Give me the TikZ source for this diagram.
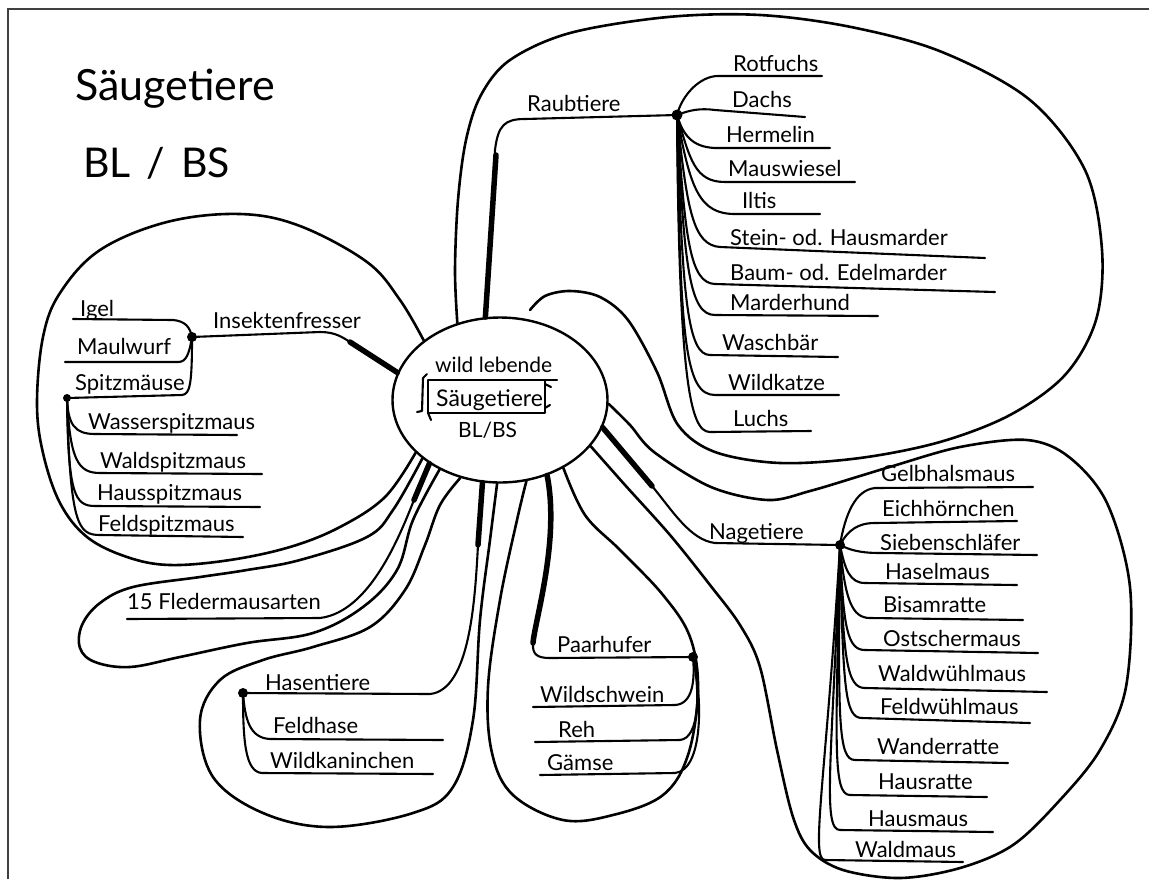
\documentclass[tikz,border=0pt]{standalone}
\usepackage{fontspec}
\setmainfont{Lato}
\usetikzlibrary{shapes.geometric}
\begin{document}
\begin{tikzpicture}[x=1pt,y=-1pt,
  outl/.style={line width=2.6pt,line cap=round,line join=round},
  uline/.style={line width=2.1pt,line cap=round,line join=round},
  thk/.style={line width=5.5pt,line cap=round},
  lab/.style={anchor=base west,inner sep=0pt,font=\fontsize{22}{22}\selectfont},
  hub/.style={circle,fill=black,inner sep=0pt,minimum size=10pt},
  pageframe/.style={line width=1.4pt,black!75}]
\useasboundingbox (0,0) rectangle (1149,879);
\draw[pageframe] (8,879) -- (8,9) -- (1149,9);

% titles
\node[anchor=base west,inner sep=0pt,font=\fontsize{43}{43}\selectfont] (title1) at (75,100) {Säugetiere};
\node[anchor=base west,inner sep=0pt,font=\fontsize{41}{41}\selectfont] (title2) at (83,177) {BL\hspace{16pt}/\hspace{16pt}BS};

% centre
\node[draw,ellipse,line width=2.4pt,minimum width=215pt,minimum height=165pt,inner sep=0pt] (E) at (500,400) {};
\node[lab,font=\fontsize{21}{21}\selectfont] (cw) at (435,372) {wild lebende};
\node[lab,font=\fontsize{23}{23}\selectfont] (cs) at (436,406) {Säugetiere};
\node[lab,font=\fontsize{21}{21}\selectfont] (cb) at (458,437) {BL/BS};
\draw[uline] (428,380) rectangle (545,413);
\draw[uline] (545,380) -- (557,380);
\draw[uline] (427,374) -- (423,378) -- (422,411) -- (417,412);
\draw[uline] (428,413) -- (431,420);
\draw[uline] (545,384) -- (551,387);
\draw[uline] (545,408) -- (550,405);

% ---------------- Raubtiere
\draw[outl] plot[smooth,tension=0.55] coordinates {(E.119) (455,270) (458,200) (466,140) (481,95) (510,60) (570,33) (668,17) (760,15) (851,27) (942,52) (1030,100) (1085,170) (1102,250) (1096,320) (1065,375) (1010,415) (940,442) (860,458) (780,463) (715,452) (678,425) (657,372) (628,320) (600,297) (570,291) (545,296) (530,310)};
\node[hub,minimum size=11pt] (R) at (677,115) {};
\draw[uline] (E.100) -- (495,150) .. controls (498,125) and (505,119) .. (525,119) -- (R.center);
\draw[thk] (E.100) -- (496,155);
\node[lab] (raub) at (527,111) {Raubtiere};
\draw[uline] (R.center) .. controls (682,95) and (700,76) .. (718,76) -- (822,76);
\draw[uline] (R.center) .. controls (690,110) and (700,108) .. (715,110) -- (805,117);
\draw[uline] (R.center) .. controls (683,135) and (692,147) .. (715,148) -- (830,148);
\draw[uline] (R.center) .. controls (690,160) and (695,182) .. (725,182) -- (855,182);
\draw[uline] (R.center) .. controls (690,190) and (700,214) .. (735,214) -- (820,214);
\draw[uline] (R.center) .. controls (687,210) and (693,245) .. (720,247) -- (985,258);
\draw[uline] (R.center) .. controls (685,240) and (690,283) .. (715,284) -- (995,292);
\draw[uline] (R.center) .. controls (684,270) and (690,315) .. (715,315) -- (878,316);
\draw[uline] (R.center) .. controls (682,300) and (688,355) .. (710,355) -- (838,357);
\draw[uline] (R.center) .. controls (680,340) and (685,395) .. (715,395) -- (839,395);
\draw[uline] (R.center) .. controls (679,380) and (690,432) .. (710,432) -- (811,431);
\node[lab] (r1) at (733,71) {Rotfuchs};
\node[lab] (r2) at (732,107) {Dachs};
\node[lab] (r3) at (726,142) {Hermelin};
\node[lab] (r4) at (728,176) {Mauswiesel};
\node[lab] (r5) at (742,208) {Iltis};
\node[lab] (r6) at (730,245) {Stein- od. Hausmarder};
\node[lab] (r7) at (730,280) {Baum- od. Edelmarder};
\node[lab] (r8) at (730,310) {Marderhund};
\node[lab] (r9) at (722,350) {Waschbär};
\node[lab] (r10) at (728,390) {Wildkatze};
\node[lab] (r11) at (733,426) {Luchs};

% ---------------- Insektenfresser
\draw[outl] plot[smooth,tension=0.6] coordinates {(E.142) (400,300) (367,262) (300,226) (240,214) (167,222) (100,250) (60,293) (43,337) (37,403) (43,453) (60,503) (87,537) (127,557) (170,565) (230,560) (290,547) (340,527) (385,497) (E.212)};
\node[hub] (I) at (192,337) {};
\node[hub,minimum size=8pt] (S) at (67,398) {};
\draw[uline] (I.center) -- (320,332) .. controls (335,332) and (342,337) .. (350,342) -- (E.165);
\draw[thk] (350,342) -- (E.165);
\node[lab] (ins) at (213,328) {Insektenfresser};
\draw[uline] (73,319) -- (173,320) .. controls (185,321) and (190,327) .. (I.center);
\draw[uline] (65,362) -- (178,362) .. controls (186,362) and (189,355) .. (I.center);
\draw[uline] (S.center) -- (182,395) .. controls (190,394) and (192,385) .. (I.center);
\node[lab] (i1) at (80,316) {Igel};
\node[lab] (i2) at (77,354) {Maulwurf};
\node[lab] (i3) at (75,390) {Spitzmäuse};
\draw[uline] (S.center) .. controls (68,425) and (75,434) .. (95,434) -- (237,435);
\draw[uline] (S.center) .. controls (70,460) and (78,473) .. (100,473) -- (262,474);
\draw[uline] (S.center) .. controls (68,495) and (75,506) .. (95,506) -- (260,507);
\draw[uline] (S.center) .. controls (70,525) and (78,535) .. (100,535) -- (243,537);
\node[lab] (s1) at (88,429) {Wasserspitzmaus};
\node[lab] (s2) at (100,468) {Waldspitzmaus};
\node[lab] (s3) at (97,500) {Hausspitzmaus};
\node[lab] (s4) at (98,531) {Feldspitzmaus};

% ---------------- Fledermaeuse
\draw[outl] plot[smooth,tension=0.6] coordinates {(E.217) (393,510) (367,537) (300,560) (247,570) (200,577) (133,587) (100,603) (82,625) (80,648) (95,662) (130,667) (180,657) (247,643) (313,633) (363,607) (397,570) (413,520) (E.229)};
\draw[uline] (E.222) -- (414,500) .. controls (400,535) and (370,612) .. (320,618) -- (127,619);
\draw[thk] (E.222) -- (414,500);
\node[lab] (fl) at (127,609) {15 Fledermausarten};

% ---------------- Hasentiere
\draw[outl] plot[smooth,tension=0.6] coordinates {(E.243) (440,505) (425,545) (405,590) (370,627) (313,647) (263,660) (220,680) (200,720) (213,777) (263,813) (330,827) (413,813) (453,787) (473,720) (480,620) (490,540) (E.268)};
\node[hub] (H) at (243,693) {};
\draw[uline] (E.258) -- (478,545) .. controls (475,600) and (470,690) .. (430,694) -- (H.center);
\draw[thk] (E.258) -- (478,545);
\node[lab] (has) at (265,690) {Hasentiere};
\draw[uline] (H.center) .. controls (245,720) and (250,738) .. (270,739) -- (443,740);
\draw[uline] (H.center) .. controls (243,740) and (245,772) .. (262,773) -- (433,774);
\node[lab] (h1) at (273,733) {Feldhase};
\node[lab] (h2) at (270,768) {Wildkaninchen};

% ---------------- Paarhufer
\draw[outl] plot[smooth,tension=0.6] coordinates {(E.288) (517,520) (500,600) (488,687) (492,753) (513,795) (563,820) (613,815) (663,795) (688,755) (698,690) (690,637) (663,595) (620,550) (585,515) (E.313)};
\node[hub] (P) at (693,657) {};
\draw[thk] (E.302) .. controls (560,540) and (535,620) .. (533,643);
\draw[uline] (533,643) .. controls (532,655) and (538,658) .. (550,658) -- (P.center);
\node[lab] (paar) at (557,652) {Paarhufer};
\draw[uline] (P.center) .. controls (695,680) and (693,704) .. (675,705) -- (533,707);
\draw[uline] (P.center) .. controls (700,690) and (700,738) .. (680,740) -- (535,742);
\draw[uline] (P.center) .. controls (703,700) and (703,770) .. (675,773) -- (540,775);
\node[lab] (p1) at (540,702) {Wildschwein};
\node[lab] (p2) at (558,737) {Reh};
\node[lab] (p3) at (547,770) {Gämse};

% ---------------- Nagetiere
\draw[outl] plot[smooth,tension=0.55] coordinates {(E.358) (630,425) (654,452) (711,487) (768,500) (810,491) (860,476) (893,466) (960,447) (1027,440) (1069,457) (1107,503) (1130,587) (1126,687) (1100,750) (1060,800) (1013,845) (960,868) (900,878) (843,870) (810,850) (793,817) (777,750) (760,667) (740,625) (710,585) (670,535) (625,485) (E.333)};
\node[hub] (N) at (840,545) {};
\draw[uline] (E.345) -- (652,486) .. controls (672,510) and (690,540) .. (715,543) -- (N.center);
\draw[thk] (E.345) -- (652,486);
\node[lab] (nage) at (709,539) {Nagetiere};
\draw[uline] (N.center) .. controls (845,515) and (855,490) .. (875,488) -- (1033,487);
\draw[uline] (N.center) .. controls (848,530) and (858,523) .. (875,523) -- (1017,521);
\draw[uline] (N.center) .. controls (850,550) and (860,553) .. (880,553) -- (1037,555);
\draw[uline] (N.center) .. controls (845,570) and (850,583) .. (865,583) -- (1017,585);
\draw[uline] (N.center) .. controls (845,600) and (852,618) .. (870,618) -- (1023,620);
\draw[uline] (N.center) .. controls (843,630) and (848,650) .. (865,650) -- (1038,653);
\draw[uline] (N.center) .. controls (843,660) and (847,688) .. (865,688) -- (1047,692);
\draw[uline] (N.center) .. controls (843,690) and (845,718) .. (862,718) -- (1030,723);
\draw[uline] (N.center) .. controls (838,720) and (838,760) .. (855,760) -- (1008,763);
\draw[uline] (N.center) .. controls (836,740) and (832,795) .. (850,795) -- (987,797);
\draw[uline] (N.center) .. controls (832,760) and (822,830) .. (840,830) -- (993,832);
\draw[uline] (N.center) .. controls (826,780) and (810,860) .. (825,860) -- (963,862);
\node[lab] (n1) at (881,481) {Gelbhalsmaus};
\node[lab] (n2) at (882,516) {Eichhörnchen};
\node[lab] (n3) at (880,550) {Siebenschläfer};
\node[lab] (n4) at (885,579) {Haselmaus};
\node[lab] (n5) at (883,612) {Bisamratte};
\node[lab] (n6) at (883,646) {Ostschermaus};
\node[lab] (n7) at (878,681) {Waldwühlmaus};
\node[lab] (n8) at (880,714) {Feldwühlmaus};
\node[lab] (n9) at (877,754) {Wanderratte};
\node[lab] (n10) at (878,789) {Hausratte};
\node[lab] (n11) at (868,826) {Hausmaus};
\node[lab] (n12) at (855,857) {Waldmaus};
\end{tikzpicture}
\end{document}
